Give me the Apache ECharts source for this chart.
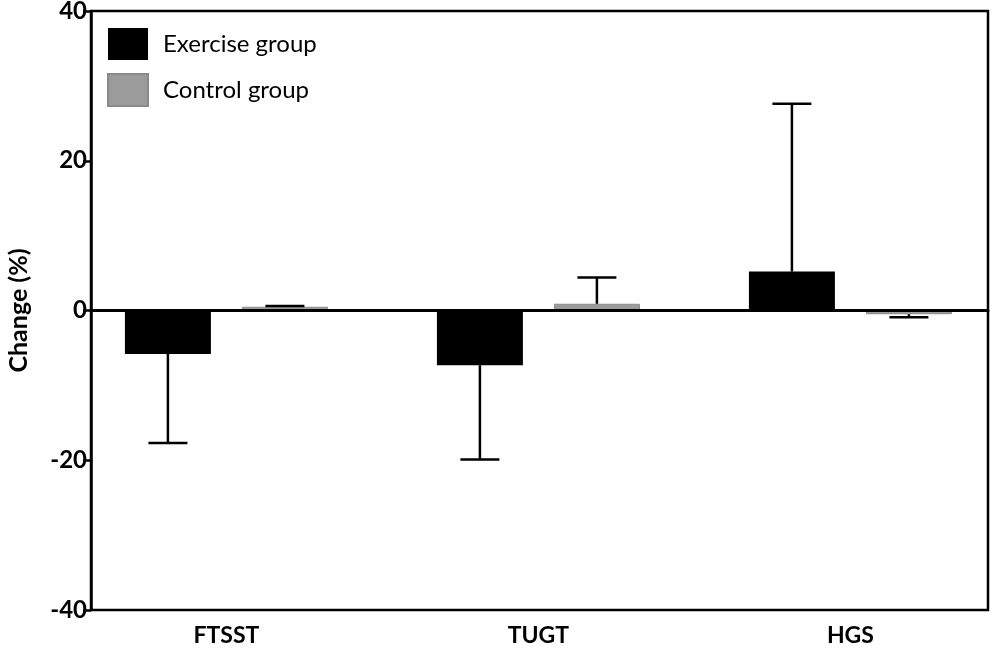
<!DOCTYPE html>
<html>
<head>
<meta charset="utf-8">
<script src="https://cdn.jsdelivr.net/npm/echarts@6/dist/echarts.min.js"></script>
<style>
  html, body { margin: 0; padding: 0; background: #fff; }
  #chart { width: 992px; height: 652px; }
</style>
</head>
<body>
<div id="chart"></div>
<script>
const categories = ['FTSST', 'TUGT', 'HGS'];
const seriesNames = ['Exercise group', 'Control group'];
const exerciseMean = [-5.8, -7.3, 5.2];
const exerciseErr = [11.9, 12.6, 22.4];
const controlMean = [0.5, 0.9, -0.5];
const controlErr = [0.1, 3.5, 0.4];
const yMin = -40, yMax = 40, yInterval = 20;

const FONT = 'Lato, "Open Sans", sans-serif';
const barW = 86;
const barGapPx = 31;
const capHalf = 19.5;
const offset = (barW + barGapPx) / 2;
// x extent in category-index units (frame edges beyond the outer categories)
const xMin = -0.434, xMax = 2.441;

function errItem(offsetSign) {
  return function (params, api) {
    const i = api.value(0), m = api.value(1), e = api.value(2);
    const end = m >= 0 ? m + e : m - e;
    const p0 = api.coord([i, m]);
    const p1 = api.coord([i, end]);
    const x = p0[0] + offsetSign * offset;
    const st = { stroke: '#000', lineWidth: 2.5 };
    return {
      type: 'group',
      children: [
        { type: 'line', shape: { x1: x, y1: p0[1], x2: x, y2: p1[1] }, style: st },
        { type: 'line', shape: { x1: x - capHalf, y1: p1[1], x2: x + capHalf, y2: p1[1] }, style: st }
      ]
    };
  };
}

const chart = echarts.init(document.getElementById('chart'), null, { renderer: 'canvas' });
chart.setOption({
  backgroundColor: '#fff',
  animation: false,
  textStyle: { fontFamily: FONT },
  legend: {
    orient: 'vertical',
    left: 102, top: 23,
    itemWidth: 40, itemHeight: 32, itemGap: 13,
    textStyle: { fontFamily: FONT, fontSize: 24, color: '#000', padding: [0, 0, 0, 10] },
    data: [
      { name: seriesNames[0], icon: 'rect' },
      { name: seriesNames[1], icon: 'rect' }
    ]
  },
  grid: [
    {
      left: 91, right: 4, top: 11, bottom: 42,
      containLabel: false, outerBoundsMode: 'none',
      show: true, borderColor: '#000', borderWidth: 2.5, backgroundColor: 'transparent'
    }
  ],
  xAxis: [
    {
      type: 'value', min: xMin, max: xMax, z: 10,
      axisLine: { show: true, onZero: true, lineStyle: { color: '#000', width: 3 } },
      axisTick: { show: false }, splitLine: { show: false },
      axisLabel: {
        show: true, margin: 14, customValues: categories.map((c, i) => i),
        formatter: v => categories[Math.round(v)] || '',
        fontFamily: FONT, fontSize: 23, fontWeight: 'bold', color: '#000'
      }
    }
  ],
  yAxis: [
    {
      type: 'value', min: yMin, max: yMax, interval: yInterval,
      name: 'Change (%)', nameLocation: 'middle', nameRotate: 90, nameGap: 60,
      nameTextStyle: { fontFamily: FONT, fontSize: 25, fontWeight: 'bold', color: '#000' },
      axisLine: { show: true, onZero: false, lineStyle: { color: '#000', width: 2.5 } },
      axisTick: { show: true, length: 8, lineStyle: { color: '#000', width: 2.5 } },
      axisLabel: { margin: 4, fontFamily: FONT, fontSize: 24, fontWeight: 'bold', color: '#000' },
      splitLine: { show: false }
    }
  ],
  series: [
    {
      name: seriesNames[0], type: 'bar',
      barWidth: barW, barGap: (barGapPx / barW * 100) + '%',
      itemStyle: { color: '#000', borderColor: '#000', borderWidth: 0 },
      data: exerciseMean.map((m, i) => [i, m])
    },
    {
      name: seriesNames[1], type: 'bar',
      barWidth: barW,
      itemStyle: { color: '#9b9b9b', borderColor: '#8a8a8a', borderWidth: 1 },
      data: controlMean.map((m, i) => [i, m])
    },
    {
      type: 'custom', z: 5,
      renderItem: errItem(-1),
      encode: { x: 0, y: 1 },
      data: exerciseMean.map((m, i) => [i, m, exerciseErr[i]])
    },
    {
      type: 'custom', z: 5,
      renderItem: errItem(1),
      encode: { x: 0, y: 1 },
      data: controlMean.map((m, i) => [i, m, controlErr[i]])
    }
  ]
});
</script>
</body>
</html>
